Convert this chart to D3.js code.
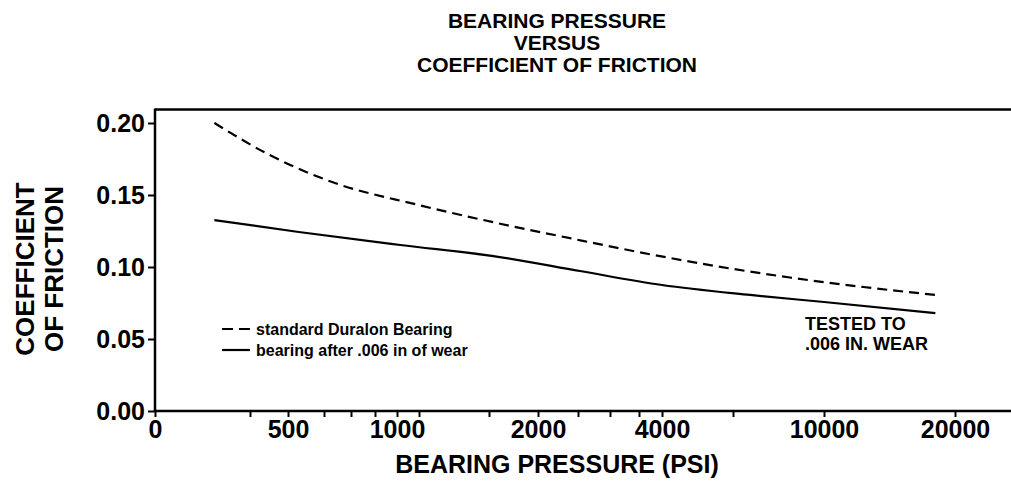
<!DOCTYPE html>
<html><head><meta charset="utf-8">
<script src="https://cdn.jsdelivr.net/npm/d3@7"></script>
<style>
body{margin:0;background:#fff}
svg{display:block}
text{font-family:"Liberation Sans",Arial,Helvetica,sans-serif;font-weight:bold;fill:#000}
</style>
</head><body>
<svg id="c" width="1011" height="485"></svg>
<script>
// ---- data ----
const titleLines = ["BEARING PRESSURE", "VERSUS", "COEFFICIENT OF FRICTION"];
const xTitle = "BEARING PRESSURE (PSI)";
const yTitleLines = ["COEFFICIENT", "OF FRICTION"];
const xMajorTicks = [0, 500, 1000, 2000, 4000, 10000, 20000];
const xMinorTicks = [400, 600, 700, 800, 1200, 1500, 2500, 3000, 3500, 6000];
const yTicks = [0, 0.05, 0.10, 0.15, 0.20];
const standardPressure = [250, 450, 630, 1200, 1550, 2400, 3550, 5500, 8500, 13000, 18500];
const standardFriction = [0.200, 0.178, 0.159, 0.143, 0.131, 0.120, 0.110, 0.1007, 0.0927, 0.0861, 0.0806];
const wornPressure = [250, 530, 1030, 1610, 2530, 4000, 6750, 10000, 18500];
const wornFriction = [0.1326, 0.1243, 0.1153, 0.1069, 0.0972, 0.0875, 0.0806, 0.0757, 0.068];
const legendLabels = ["standard Duralon Bearing", "bearing after .006 in of wear"];
const noteLines = ["TESTED TO", ".006 IN. WEAR"];

// ---- layout ----
const W = 1011, H = 485;
const svg = d3.select("#c");
const allTicks = xMajorTicks.concat(xMinorTicks).sort((a, b) => a - b);
// hand-ruled (non-uniform) pressure axis: piecewise scale through the tick marks
const xPix = [155, 250, 288, 324, 351, 375, 397, 419, 489, 538, 578, 610, 639, 662, 733, 824, 955];
const x = d3.scaleLinear().domain(allTicks).range(xPix);
const y = d3.scaleLinear().domain([0, 0.2]).range([411, 123]);
const yTop = y(0.2093);

// title
svg.append("g").selectAll("text").data(titleLines).join("text")
  .attr("x", 557).attr("y", (d, i) => 28 + i * 22)
  .attr("text-anchor", "middle").style("font-size", "21px").text(d => d);

// frame lines
svg.append("line").attr("x1", x(0)).attr("x2", W).attr("y1", y(0)).attr("y2", y(0))
  .attr("stroke", "#000").attr("stroke-width", 2.5);
svg.append("line").attr("x1", x(0)).attr("x2", W).attr("y1", yTop).attr("y2", yTop)
  .attr("stroke", "#000").attr("stroke-width", 2.5);
svg.append("line").attr("x1", x(0)).attr("x2", x(0)).attr("y1", y(0) + 1).attr("y2", yTop - 1)
  .attr("stroke", "#000").attr("stroke-width", 2.5);

// x axis
const xAxis = svg.append("g").attr("transform", `translate(0,${y(0)})`)
  .call(d3.axisBottom(x).tickValues(allTicks)
    .tickFormat(d => xMajorTicks.includes(d) ? String(d) : "")
    .tickSize(6).tickPadding(3));
xAxis.select(".domain").remove();
xAxis.selectAll(".tick line").attr("stroke", "#000").attr("stroke-width", 2);
xAxis.selectAll(".tick text").style("font-size", "25px").attr("font-family", null);

// y axis
const yAxis = svg.append("g").attr("transform", `translate(${x(0)},0)`)
  .call(d3.axisLeft(y).tickValues(yTicks).tickFormat(d3.format(".2f"))
    .tickSize(7).tickPadding(3));
yAxis.select(".domain").remove();
yAxis.selectAll(".tick line").attr("stroke", "#000").attr("stroke-width", 2);
yAxis.selectAll(".tick text").style("font-size", "25px").attr("font-family", null);

// axis titles
svg.append("text").attr("x", 557).attr("y", 473).attr("text-anchor", "middle")
  .style("font-size", "25px").text(xTitle);
svg.append("g").selectAll("text").data(yTitleLines).join("text")
  .attr("transform", (d, i) => `translate(${34 + i * 29},269) rotate(-90)`)
  .attr("text-anchor", "middle").style("font-size", "26px").text(d => d);

// curves
const line = d3.line().x(d => x(d[0])).y(d => y(d[1])).curve(d3.curveMonotoneX);
const standard = standardPressure.map((p, i) => [p, standardFriction[i]]);
const worn = wornPressure.map((p, i) => [p, wornFriction[i]]);
svg.append("path").attr("d", line(standard)).attr("fill", "none")
  .attr("stroke", "#000").attr("stroke-width", 2.2).attr("stroke-dasharray", "10,6");
svg.append("path").attr("d", line(worn)).attr("fill", "none")
  .attr("stroke", "#000").attr("stroke-width", 2.2);

// legend
const leg = svg.append("g").attr("transform", "translate(222,329)");
const dashes = ["11,6", null];
leg.selectAll("line").data(legendLabels).join("line")
  .attr("x1", 0).attr("x2", 28).attr("y1", (d, i) => i * 21).attr("y2", (d, i) => i * 21)
  .attr("stroke", "#000").attr("stroke-width", 2.2)
  .attr("stroke-dasharray", (d, i) => dashes[i]);
leg.selectAll("text").data(legendLabels).join("text")
  .attr("x", 34).attr("y", (d, i) => i * 21 + 6)
  .style("font-size", "16px").text(d => d);

// note
svg.append("g").selectAll("text").data(noteLines).join("text")
  .attr("x", 805).attr("y", (d, i) => 330 + i * 20)
  .style("font-size", "18px").text(d => d);
</script>
</body></html>
